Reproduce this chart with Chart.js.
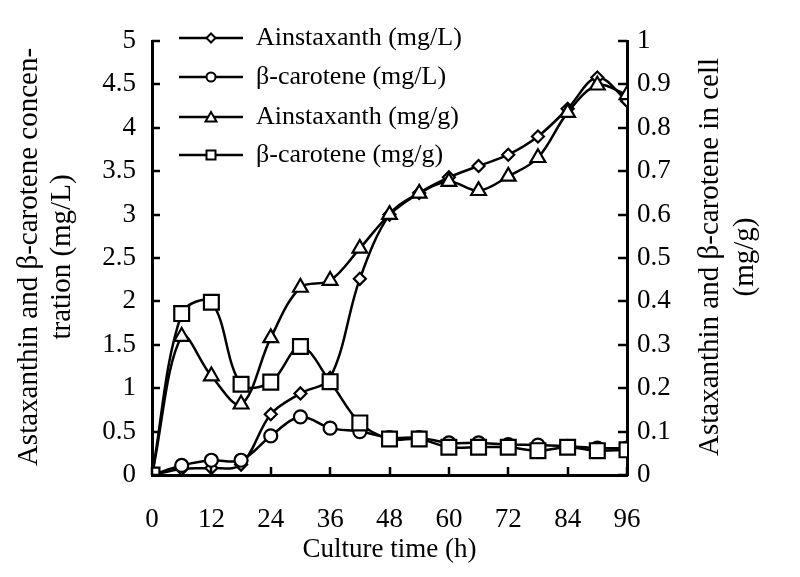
<!DOCTYPE html>
<html>
<head>
<meta charset="utf-8">
<script src="https://cdn.jsdelivr.net/npm/chart.js@4.4.1/dist/chart.umd.min.js"></script>
<style>
  html, body { margin: 0; padding: 0; background: #fff; }
  #wrap { width: 800px; height: 577px; }
</style>
</head>
<body>
<div id="wrap"><canvas id="chart" width="800" height="577"></canvas></div>
<script>
// culture time (h)
const hours = [0, 6, 12, 18, 24, 30, 36, 42, 48, 54, 60, 66, 72, 78, 84, 90, 96];
// left axis, mg/L
const astaMgL = [0, 0.07, 0.08, 0.12, 0.70, 0.94, 1.12, 2.26, 3.00, 3.25, 3.43, 3.56, 3.69, 3.90, 4.22, 4.58, 4.31];
const caroMgL = [0, 0.11, 0.17, 0.17, 0.45, 0.67, 0.54, 0.50, 0.43, 0.43, 0.37, 0.37, 0.35, 0.345, 0.33, 0.31, 0.31];
// right axis, mg/g
const astaMgG = [0, 0.319, 0.228, 0.163, 0.316, 0.432, 0.448, 0.522, 0.600, 0.649, 0.676, 0.655, 0.688, 0.731, 0.835, 0.898, 0.876];
const caroMgG = [0, 0.372, 0.398, 0.209, 0.214, 0.296, 0.215, 0.120, 0.083, 0.083, 0.064, 0.064, 0.064, 0.056, 0.064, 0.056, 0.058];

const legendLabels = ['Ainstaxanth (mg/L)', 'β-carotene (mg/L)', 'Ainstaxanth (mg/g)', 'β-carotene (mg/g)'];
const xTitle = 'Culture time (h)';
const leftTitle = ['Astaxanthin and β-carotene concen-', 'tration (mg/L)'];
const rightTitle = ['Astaxanthin and β-carotene in cell', '(mg/g)'];

const FONT = "'Liberation Serif', 'Times New Roman', serif";

function toPoints(vals) {
    return hours.map((h, i) => ({ x: h, y: vals[i] }));
}

function series(label, vals, axis, style, radius, order) {
    return {
        label: label,
        data: toPoints(vals),
        yAxisID: axis,
        borderColor: '#000',
        borderWidth: 2.5,
        backgroundColor: '#fff',
        pointStyle: style,
        pointRadius: radius,
        pointHoverRadius: radius,
        pointBorderWidth: 2.2,
        pointBorderColor: '#000',
        pointBackgroundColor: '#fff',
        tension: 0.35,
        fill: false,
        order: order
    };
}

function plainNumber(value) {
    return String(Number(value.toFixed(2)));
}

// small marker shapes for the hand drawn legend
function drawMarker(ctx, style, x, y, r) {
    ctx.beginPath();
    if (style === 'rectRot') {
        ctx.moveTo(x - r, y); ctx.lineTo(x, y - r); ctx.lineTo(x + r, y); ctx.lineTo(x, y + r);
        ctx.closePath();
    } else if (style === 'circle') {
        ctx.arc(x, y, r, 0, Math.PI * 2);
    } else if (style === 'triangle') {
        ctx.moveTo(x - r, y + r * 0.8); ctx.lineTo(x, y - r * 0.9); ctx.lineTo(x + r, y + r * 0.8);
        ctx.closePath();
    } else {
        ctx.rect(x - r, y - r, r * 2, r * 2);
    }
    ctx.fillStyle = '#fff';
    ctx.fill();
    ctx.lineWidth = 2;
    ctx.strokeStyle = '#000';
    ctx.stroke();
}

const decorPlugin = {
    id: 'decor',
    afterDatasetsDraw(chart) {
        const ctx = chart.ctx;
        const area = chart.chartArea;
        const xs = chart.scales.x, ys = chart.scales.y, ys1 = chart.scales.y1;
        ctx.save();
        ctx.strokeStyle = '#000';
        ctx.lineWidth = 2.5;
        // inward tick marks
        ctx.beginPath();
        ys.ticks.forEach(t => {
            const py = Math.round(ys.getPixelForValue(t.value));
            ctx.moveTo(area.left, py); ctx.lineTo(area.left + 8, py);
        });
        ys1.ticks.forEach(t => {
            const py = Math.round(ys1.getPixelForValue(t.value));
            ctx.moveTo(area.right, py); ctx.lineTo(area.right - 9, py);
        });
        xs.ticks.forEach(t => {
            const px = Math.round(xs.getPixelForValue(t.value));
            ctx.moveTo(px, area.bottom); ctx.lineTo(px, area.bottom - 8);
        });
        ctx.stroke();

        // legend
        const styles = ['rectRot', 'circle', 'triangle', 'rect'];
        const sizes = [4.5, 4.5, 5.5, 4.5];
        const rows = [38, 77, 117, 155];
        ctx.font = '26px ' + FONT;
        ctx.fillStyle = '#000';
        ctx.textBaseline = 'middle';
        ctx.textAlign = 'left';
        legendLabels.forEach((lab, i) => {
            const y = rows[i];
            ctx.beginPath();
            ctx.lineWidth = 2.5;
            ctx.moveTo(179, y); ctx.lineTo(243, y);
            ctx.stroke();
            drawMarker(ctx, styles[i], 211, y, sizes[i]);
            ctx.fillStyle = '#000';
            ctx.fillText(lab, 256, y);
        });

        // axis titles
        ctx.textAlign = 'center';
        ctx.font = '27px ' + FONT;
        ctx.fillText(xTitle, (area.left + area.right) / 2, 550);

        ctx.font = '29px ' + FONT;
        ctx.save();
        ctx.translate(0, 257);
        ctx.rotate(-Math.PI / 2);
        ctx.fillText(leftTitle[0], 0, 29);
        ctx.fillText(leftTitle[1], 0, 62);
        ctx.restore();

        ctx.save();
        ctx.translate(0, 257);
        ctx.rotate(-Math.PI / 2);
        ctx.fillText(rightTitle[0], 0, 710);
        ctx.fillText(rightTitle[1], 0, 745);
        ctx.restore();

        ctx.restore();
    }
};

Chart.defaults.font.family = FONT;
Chart.defaults.font.size = 27;
Chart.defaults.color = '#000';

new Chart(document.getElementById('chart').getContext('2d'), {
    type: 'line',
    data: {
        datasets: [
            series(legendLabels[0], astaMgL, 'y', 'rectRot', 6, 3),
            series(legendLabels[1], caroMgL, 'y', 'circle', 6.5, 2),
            series(legendLabels[2], astaMgG, 'y1', 'triangle', 8.5, 1),
            series(legendLabels[3], caroMgG, 'y1', 'rect', 10.5, 0)
        ]
    },
    options: {
        responsive: false,
        animation: false,
        layout: { padding: { top: 41, left: 0, right: 0, bottom: 0 } },
        plugins: {
            legend: { display: false },
            tooltip: { enabled: false }
        },
        scales: {
            x: {
                type: 'linear',
                min: 0,
                max: 96,
                grid: { display: false, drawTicks: false },
                border: { display: true, color: '#000', width: 3 },
                ticks: { stepSize: 12, padding: 29, maxRotation: 0, font: { family: FONT, size: 27 } },
                afterFit: function(scale) { scale.height = 102; }
            },
            y: {
                position: 'left',
                min: 0,
                max: 5,
                grid: { display: false, drawTicks: false },
                border: { display: true, color: '#000', width: 3 },
                ticks: { stepSize: 0.5, padding: 16, font: { family: FONT, size: 27 }, callback: plainNumber },
                afterFit: function(scale) { scale.width = 152; }
            },
            y1: {
                position: 'right',
                min: 0,
                max: 1,
                grid: { display: false, drawTicks: false },
                border: { display: true, color: '#000', width: 3 },
                ticks: { stepSize: 0.1, padding: 10, font: { family: FONT, size: 27 }, callback: plainNumber },
                afterFit: function(scale) { scale.width = 173; }
            }
        }
    },
    plugins: [decorPlugin]
});
</script>
</body>
</html>
